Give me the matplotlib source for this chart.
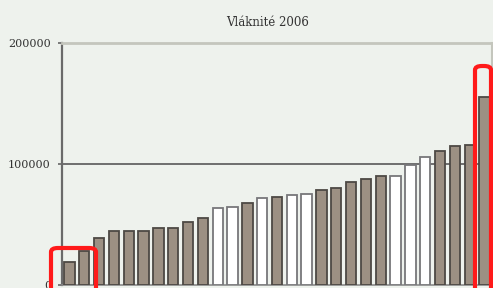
"""
Bar chart: Vláknité 2006
"""
import matplotlib
matplotlib.use("Agg")
import matplotlib.pyplot as plt
from matplotlib.patches import FancyBboxPatch

# values, left to right
values = [19000, 28300, 39100, 44600, 44600, 44600, 47400, 47400, 52300,
          55100, 63400, 64700, 67500, 71700, 73000, 74400, 75200, 78500,
          80400, 85400, 87600, 90100, 90300, 99200, 106000, 111000,
          114900, 115700, 155600]
# 'd' = shaded bar, 'w' = open bar
kinds = ['d', 'd', 'd', 'd', 'd', 'd', 'd', 'd', 'd',
         'd', 'w', 'w', 'd', 'w', 'd', 'w', 'w', 'd',
         'd', 'd', 'd', 'd', 'w', 'w', 'w', 'd',
         'd', 'd', 'd']
yticks = [0, 100000, 200000]
ytick_labels = ["0", "100000", "200000"]
title = "Vláknité 2006"

BG = "#eef2ed"
W, H = 493, 288

fig = plt.figure(figsize=(W / 100, H / 100), dpi=100, facecolor=BG)
ax = fig.add_axes([62 / W, 1 - 285 / H, (492 - 62) / W, (285 - 43) / H])
ax.set_facecolor(BG)

x = list(range(len(values)))
fills = ["#9c9083" if k == 'd' else "#ffffff" for k in kinds]
edges = ["#4d4944" if k == 'd' else "#77777a" for k in kinds]
ax.bar(x, values, width=0.7, color=fills, edgecolor=edges, linewidth=1.3,
       zorder=3)

ax.set_xlim(-0.5, len(values) - 0.5)
ax.set_ylim(0, 200000)
ax.set_xticks([])
ax.set_yticks(yticks)
ax.set_yticklabels(ytick_labels, family="DejaVu Serif", fontsize=8,
                   color="#333333")
ax.tick_params(axis="y", length=3, width=1.2, color="#666666", pad=5)

# gridline at 100000
ax.axhline(100000, color="#6e6e6e", lw=1.4, zorder=2)

ax.spines["left"].set_color("#6a6a6a")
ax.spines["left"].set_linewidth(1.6)
ax.spines["bottom"].set_color("#8a8a8a")
ax.spines["bottom"].set_linewidth(1.2)
ax.spines["top"].set_color("#c4c6bd")
ax.spines["top"].set_linewidth(2.0)
ax.spines["right"].set_color("#c4c6bd")
ax.spines["right"].set_linewidth(1.5)

fig.text(268 / W, 1 - 22 / H, title, ha="center", va="center",
         family="DejaVu Serif", fontsize=8.5, color="#333333")

# red highlight boxes (pixel coords of the picture)
for x0, y0, x1, y1 in [(51, 248, 96, 300), (475, 66, 491, 300)]:
    box = FancyBboxPatch((x0 / W, 1 - y1 / H), (x1 - x0) / W, (y1 - y0) / H,
                         boxstyle="round,pad=0,rounding_size=0.014",
                         transform=fig.transFigure, fill=False,
                         edgecolor="#ff1a1a", linewidth=3.0, zorder=10)
    fig.patches.append(box)

fig.savefig("out.png", dpi=100, facecolor=BG)
